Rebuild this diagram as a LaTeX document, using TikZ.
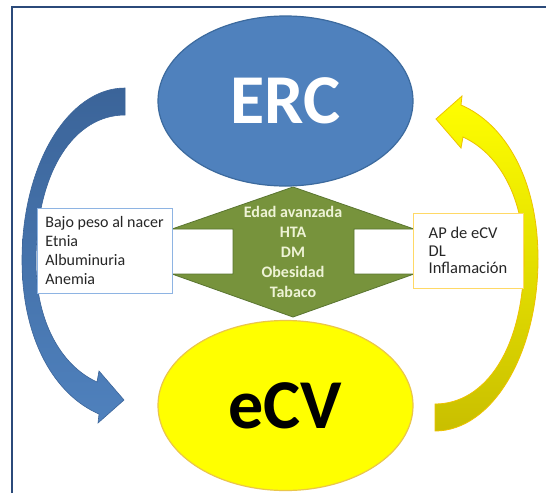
\documentclass[tikz,border=0pt]{standalone}
\usepackage{fontspec}
\setmainfont{Carlito}
\usetikzlibrary{shapes.geometric}
\definecolor{framec}{HTML}{2B4A7A}
\definecolor{ercfill}{HTML}{4F81BD}
\definecolor{ercdraw}{HTML}{3C6A9E}
\definecolor{ecvfill}{HTML}{FFFF00}
\definecolor{ecvdraw}{HTML}{EAC64A}
\definecolor{greenfill}{HTML}{77933C}
\definecolor{greendraw}{HTML}{5A7530}
\definecolor{greentext}{HTML}{EEF3D6}
\definecolor{bluetop}{HTML}{3B6499}
\definecolor{bluebot}{HTML}{4F81BD}
\definecolor{yeltop}{HTML}{FFFF00}
\definecolor{yelbot}{HTML}{C9BF00}
\definecolor{yeldraw}{HTML}{EDC200}
\definecolor{leftbc}{HTML}{8EB4E3}
\definecolor{rightbc}{HTML}{FFD966}
\definecolor{textc}{HTML}{262626}
\begin{document}
\begin{tikzpicture}[x=1pt,y=-1pt,
  frameline/.style={draw=framec, line width=2.5pt},
  bigell/.style={ellipse, minimum width=255pt, minimum height=170pt, inner sep=0pt, line width=1.2pt},
  factbox/.style={draw, fill=white, line width=0.8pt, align=left, inner sep=0pt, text=textc},
  riskshape/.style={fill=greenfill, draw=greendraw, line width=0.8pt, line join=miter},
  bluearrow/.style={top color=bluetop, bottom color=bluebot, draw=bluetop, line width=0.6pt},
  yelarrow/.style={top color=yeltop, bottom color=yelbot, draw=yeldraw, line width=0.8pt}
]
\useasboundingbox (0,0) rectangle (546,493);
\fill[white] (0,0) rectangle (546,493);
% frame (top and left edges)
\draw[frameline] (12,493) -- (12,7) -- (546,7);

% blue curved arrow ERC -> eCV
\path[bluearrow] (125,88) .. controls (68,88) and (22,165) .. (22,260)
  .. controls (22,340) and (55,395) .. (99,414)
  -- (98,423) -- (124,400) -- (99,371) -- (97,382)
  .. controls (60,365) and (36,320) .. (36,262)
  .. controls (36,170) and (75,115) .. (125,115) -- cycle;

% yellow curved arrow eCV -> ERC
\path[yelarrow] (435,431) .. controls (492,431) and (538,354) .. (538,259)
  .. controls (538,179) and (505,124) .. (461,105)
  -- (462,96) -- (436,119) -- (461,148) -- (463,137)
  .. controls (500,154) and (524,199) .. (524,257)
  .. controls (524,349) and (485,404) .. (435,404) -- cycle;

% ellipses
\node[bigell, fill=ercfill, draw=ercdraw, text=white,
      font=\fontsize{70}{70}\bfseries] (erc) at (285.5,101) {ERC};
\node[bigell, fill=ecvfill, draw=ecvdraw, text=black,
      font=\fontsize{70}{70}\bfseries] (ecv) at (285.5,405.5) {eCV};

% green double arrow
\path[riskshape] (293,187) -- (414,229) -- (354,229) -- (354,274) -- (414,274)
  -- (293,317) -- (172,274) -- (233,274) -- (233,229) -- (172,229) -- cycle;
\node[align=center, text=greentext, inner sep=0pt,
      font=\fontsize{16}{20}\bfseries\selectfont] (risk) at (293,252)
  {Edad avanzada\\HTA\\DM\\Obesidad\\Tabaco};

% side boxes
\node[factbox, draw=leftbc, minimum width=135pt, minimum height=85pt,
      font=\fontsize{16}{19.3}\selectfont] (left) at (104.5,250.5)
  {Bajo peso al nacer\\Etnia\\Albuminuria\\Anemia};
\node[factbox, draw=rightbc, minimum width=110pt, minimum height=75pt,
      font=\fontsize{16.5}{17.5}\selectfont] (right) at (468,250.5)
  {AP de eCV\\DL\\Inflamación};
\end{tikzpicture}
\end{document}
